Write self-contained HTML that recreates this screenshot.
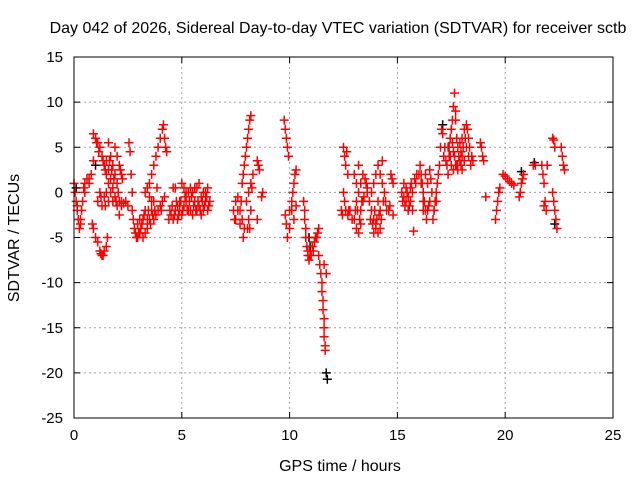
<!DOCTYPE html>
<html><head><meta charset="utf-8"><style>
html,body{margin:0;padding:0;background:#fff;}
svg{display:block;font-family:"Liberation Sans",sans-serif;}
</style></head><body>
<svg id="chart" width="640" height="480" viewBox="0 0 640 480">
<rect x="0" y="0" width="640" height="480" fill="#fff"/>
<text x="338" y="33" font-size="16" text-anchor="middle">Day 042 of 2026, Sidereal Day-to-day VTEC variation (SDTVAR) for receiver sctb</text>
<text x="340" y="471" font-size="16" text-anchor="middle">GPS time / hours</text>
<text x="19" y="238" font-size="16" text-anchor="middle" transform="rotate(-90 19 238)">SDTVAR / TECUs</text>
<g id="grid"></g>
<g id="ticks"></g>
<g id="marks"></g>
<rect x="74" y="57" width="539" height="361" fill="none" stroke="#000" stroke-width="1"/>
</svg>
<script>
const xTicks=[0,5,10,15,20,25];
const yTicks=[15,10,5,0,-5,-10,-15,-20,-25];
const redX=[0,0.05,0.1,0.15,0.2,0.25,0.3,0.35,0.4,0.45,0.5,0.6,0.7,0.8,0.9,
0.85,0.9,1.0,1.1,1.2,1.3,1.4,1.5,1.55,
0.9,1.0,1.05,1.1,1.2,1.3,1.4,1.5,1.6,1.7,1.8,
1.6,1.7,1.8,1.9,2.0,2.05,2.1,2.2,1.5,1.6,1.7,1.8,1.9,2.0,2.1,1.9,2.0,2.1,2.2,2.25,1.5,1.6,1.3,1.4,1.2,1.1,
2.55,2.6,2.65,2.7,2.7,2.75,2.8,2.9,3.0,3.1,3.2,2.4,2.5,2.2,2.3,
3.2,3.3,3.4,3.5,3.6,3.7,3.3,3.4,3.5,3.6,3.7,3.8,3.9,3.5,3.6,3.3,3.4,3.7,3.8,3.9,4.0,4.1,4.2,
4.0,4.1,4.15,4.2,4.25,4.3,
4.4,4.5,4.6,4.7,4.8,4.9,5.0,5.1,5.2,5.3,5.4,5.5,5.6,5.7,5.8,5.9,6.0,6.1,6.2,6.3,4.6,5.0,5.1,5.2,5.4,5.5,5.7,5.8,6.0,6.2,4.8,5.3,
7.4,7.5,7.45,7.6,7.7,7.8,7.9,7.85,7.8,7.85,7.9,7.95,8.0,8.05,8.1,8.15,8.2,8.1,8.2,8.0,8.1,8.2,8.3,8.5,8.55,8.6,8.7,8.75,8.5,
9.75,9.8,9.85,9.9,9.95,9.8,9.85,9.9,10.0,10.1,10.1,10.15,10.2,10.25,10.3,10.0,10.2,10.3,
10.65,10.7,10.7,10.75,10.75,10.8,10.85,10.9,11.0,11.1,11.15,11.2,11.3,11.35,
11.35,11.4,11.45,11.5,11.5,11.55,11.55,11.6,11.6,11.6,11.65,11.65,11.7,11.6,
12.5,12.55,12.6,12.7,12.5,12.55,12.6,12.7,12.4,12.65,12.8,
13.0,13.1,13.2,13.3,13.1,13.2,13.3,13.4,13.5,13.6,13.1,13.0,13.3,13.4,
13.7,13.8,13.9,14.0,14.1,14.2,13.8,13.9,14.0,14.1,14.2,14.3,14.4,14.5,14.6,14.1,13.9,14.3,14.7,14.75,14.8,14.8,14.65,
15.2,15.3,15.4,15.5,15.6,15.7,15.8,15.9,15.5,15.4,15.7,15.75,15.3,15.6,
16.0,16.05,16.1,16.15,16.2,16.25,16.3,16.35,16.4,16.5,16.6,16.3,16.4,16.5,16.2,
16.65,16.7,16.75,16.8,16.85,16.9,16.95,17.0,17.05,17.1,17.2,17.15,17.3,17.4,17.35,
17.4,17.45,17.5,17.55,17.6,17.65,17.7,17.7,17.75,17.8,17.85,17.9,18.0,18.1,17.5,17.6,17.7,17.8,17.9,18.0,18.1,18.2,18.25,18.3,18.2,18.3,18.4,18.5,18.0,
18.85,18.9,18.95,19.0,19.1,
19.55,19.6,19.65,19.7,19.75,
19.9,20.0,20.1,20.2,20.3,20.4,
20.65,20.7,20.75,20.8,20.85,
21.3,21.4,
21.7,21.75,21.8,21.85,21.9,21.8,21.95,
22.2,22.25,22.3,22.2,22.25,22.3,22.35,22.4,22.6,22.65,22.7,22.75];
const redY=[1,0,-1,-2,-3,-4,-3.5,-2,-1,0.5,1,1.5,1.5,2,3.5,
-3.5,-4,-5,-5.5,-6.5,-7,-6.5,-6,-5,
6.5,6,5.5,5.5,5,4,3,2,1,0,-1,
5.5,4,3,2,1,0,-1,-1.5,3.5,2.5,1.5,0.5,-0.5,-1.5,-2.5,5,4,3,2,1.5,0,-1,-1.5,-0.5,0,-1,
5.5,4.5,2,0,-2,-3,-4,-5,-4.5,-4,-3,-1,-1.5,-1,-1.2,
-5,-4.5,-4,-3,-2,-1,0,0.5,1,2,3,4,5,-0.5,-1,-2,-3,-3,-2.5,-2,-1.5,-1,-0.5,
6,7,7.5,6,5,4.5,
-3,-2.5,-3,-2,-1.5,-2,-2.5,-1.5,-1,0,0.5,0,-1,-2,-1.5,-0.5,0,-1,-2,-1,0.5,1,0.5,0,-2,-2.5,0.5,1,-2,0.5,-3,-2,
-2,-1,-3,-0.5,-2,-3,-4,-5,1,2,3,4,5,6,7,8,8.5,-3,-2,-1,0,1,2,3.5,3,2.5,-0.5,0,-3,
8,7,6,5,4,-2.5,-3.5,-5,-4,-2,-1,0,1,2,2.5,-2,-3,-1.5,
-1,-2,-3,-4,-5,-6,-7,-7.5,-7,-6.5,-5.5,-5,-4.5,-4,
-7,-8,-9,-10,-11,-12,-13,-14,-15,-16,-17,-17.5,-9,-8,
5,4,3,2,0,-1,-2,-2.5,-2,4.5,-2,
-3,-4,-4.5,-3.5,-1,0,1,2,1.5,0.5,1,2,-2,-1,
-1,-2,-3,-4,-4.5,-4,0,1,2,3,2,1,0,-2,-2,-1,-4.5,3.5,2,1.5,1,-2.5,-1.5,
0,1,0.5,-0.5,-1,0,1.5,2,-2,-1,-2,-4.3,-0.5,0.5,
2,3,2,1,0,-1,-2,-3,-2,-1,0,2,1,2.5,-2,
-3,-2,-1,0,1,2,3,5,7,6.5,5,4,3,4,2,
5,6,7,8,9.5,11,9,8,6,5,4,3.5,4,3.5,3,2.5,3,2.5,5.5,6,7,7.5,7,6,5,4,3,3.5,2.5,
5.5,5,4,3.5,-0.5,
-3,-2,-1,0,0.5,
2,1.8,1.5,1.2,1,0.8,
-0.5,0,1,1.5,2,
3,3,
3,2,1,-1,-2,-1.5,3,
6,5.8,5,0,-1,-2,-3,-4,5,4,3,2.5];
const fillX=[0.15,0.3,0.5,0.7,1.15,1.25,1.35,1.45,1.65,1.75,1.85,1.95,2.15,1.25,1.45,1.35,2.85,2.95,3.05,3.15,3.25,3.45,3.55,3.65,3.75,3.85,4.05,2.95,3.05,
4.45,4.55,4.65,4.75,4.85,4.95,5.05,5.15,5.25,5.35,5.45,5.55,5.65,5.75,5.85,5.95,6.05,6.15,6.25,4.7,4.9,5.6,5.9,6.1,
7.5,7.6,7.7,7.75,8.05,8.15,8.25,10.85,10.95,11.05,11.25,
12.45,12.6,12.75,12.9,13.05,13.15,13.25,13.35,13.45,13.55,13.75,13.85,13.95,14.05,14.15,14.25,14.35,14.45,13.2,13.6,14.0,14.2,
15.25,15.35,15.45,15.55,15.65,15.85,16.1,16.2,16.45,16.55,16.7,16.8,17.25,17.35,17.45,17.55,17.65,17.8,17.95,18.05,18.15,18.35,18.45,17.6,17.75,17.95];
const fillY=[-1.5,-3,0,1,4.5,-6.8,3.5,2.5,3.5,2.5,1.5,-1,2.5,-0.5,-1.5,-7,-4.5,-3.5,-4.5,-3.5,-2.5,-2,-3.5,-2.5,-2,0.5,-2,-5,-3,
-2,-1.5,-2.5,-1,-2.5,-1,-2,-0.5,-2,-1,-0.5,-1.5,-2,-1,-2,-1,-1.5,-0.5,-1.5,0.5,-1,0.5,-2.5,0,
-3,-2,-3.5,-1,-4,-4,0.5,-6.5,-7,-6,-5,
-2.5,-2,-2,-3,-2,-2,-3,-1,-0.5,1,-3,-3.5,-2,-3,-2.5,-3,-1,-1,3,0,-3.5,-2,
-1,-1.5,0,-1.5,1,1,1,-1,-1.5,1.5,-2,-1,3.5,5,4,5.5,4,3,4.5,5,6,5,4,4.5,3,3];
const blackX=[11.7,11.75,10.9,10.95,17.1,21.35,22.3,20.75,0.1,1.0];
const blackY=[-20,-20.7,-5,-6,7.5,3.3,-3.5,2.3,0.5,3];

const X0=74,X1=613,Y0=418,Y1=57,XMIN=0,XMAX=25,YMIN=-25,YMAX=15;
const sx=v=>X0+(v-XMIN)/(XMAX-XMIN)*(X1-X0);
const sy=v=>Y0-(v-YMIN)/(YMAX-YMIN)*(Y0-Y1);
const NS='http://www.w3.org/2000/svg';
function mk(tag,attrs,parent){const e=document.createElementNS(NS,tag);for(const k in attrs)e.setAttribute(k,attrs[k]);parent.appendChild(e);return e;}
const grid=document.getElementById('grid'),ticks=document.getElementById('ticks'),marks=document.getElementById('marks');
xTicks.forEach(t=>{const x=sx(t);
 if(t>XMIN&&t<XMAX){const g=mk('line',{x1:x,x2:x,y1:Y1,y2:Y0,stroke:'#a0a0a0','stroke-dasharray':'2,3'},grid);
 
 }
 mk('line',{x1:x,x2:x,y1:Y0,y2:Y0-6,stroke:'#000'},ticks);
 mk('line',{x1:x,x2:x,y1:Y1,y2:Y1+6,stroke:'#000'},ticks);
 const l=mk('text',{x:x,y:Y0+22,'font-size':15,'text-anchor':'middle'},ticks);l.textContent=t;
 
 
});
yTicks.forEach(t=>{const y=sy(t);
 if(t>YMIN&&t<YMAX){const g=mk('line',{x1:X0,x2:X1,y1:y,y2:y,stroke:'#a0a0a0','stroke-dasharray':'2,3'},grid);
 
 }
 mk('line',{x1:X0,x2:X0+6,y1:y,y2:y,stroke:'#000'},ticks);
 mk('line',{x1:X1,x2:X1-6,y1:y,y2:y,stroke:'#000'},ticks);
 const l=mk('text',{x:X0-11,y:y+5,'font-size':15,'text-anchor':'end'},ticks);l.textContent=t;
 
 
});
function plus(xs,ys,color,name){
 let d='';
 for(let i=0;i<xs.length;i++){const x=sx(xs[i]),y=sy(ys[i]);d+=`M${x-4.5},${y}h9M${x},${y-4.5}v9`;}
 const p=mk('path',{d:d,stroke:color,'stroke-width':1.5,fill:'none'},marks);
 
 
}
plus(blackX,blackY,'#000','series-black-points');
plus(redX,redY,'#ff0000','series-red-points');
plus(fillX,fillY,'#ff0000','series-red-points-extra');
</script>
</body></html>
